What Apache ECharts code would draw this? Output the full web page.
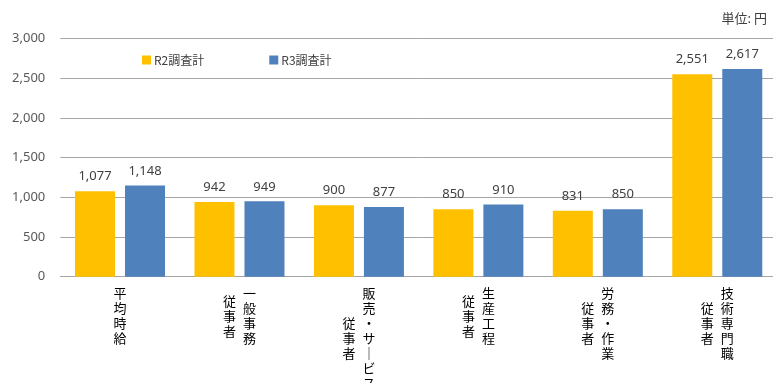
<!DOCTYPE html>
<html>
<head>
<meta charset="utf-8">
<script src="https://cdn.jsdelivr.net/npm/echarts@6/dist/echarts.min.js"></script>
<style>
  html, body { margin: 0; padding: 0; background: #fff; }
  #chart { width: 773px; height: 383px; }
</style>
</head>
<body>
<div id="chart"></div>
<script>
// Occupation groups: main column and the "従事者" column of each vertical label
const labelMain = ['平均時給', '一般事務', '販売・サービス', '生産工程', '労務・作業', '技術専門職'];
const labelSub = ['', '従事者', '従事者', '従事者', '従事者', '従事者'];
const categories = labelMain.map((m, i) => m + labelSub[i]);

// Hourly wage (yen)
const seriesNames = ['R2調査計', 'R3調査計'];
const valuesR2 = [1077, 942, 900, 850, 831, 2551];
const valuesR3 = [1148, 949, 877, 910, 850, 2617];

// Value axis ticks
const yTicks = [0, 500, 1000, 1500, 2000, 2500, 3000];

const unitText = '単位: 円';

const LATIN = '"Noto Sans", "Noto Sans CJK JP", sans-serif';
const CJK = '"Noto Sans CJK JP", "Noto Sans", sans-serif';
const CELL = 15;     // vertical pitch of stacked characters
const COL = 20;      // horizontal distance between the two label columns

// rich styles for the vertically stacked labels
const rich = {
  c: { fontFamily: CJK, fontSize: 13, lineHeight: CELL, height: CELL, width: 16, align: 'center', color: '#000' },
  sp: { fontSize: 1, width: COL, lineHeight: CELL, height: CELL }
};
for (let d = 1; d <= 8; d++) {
  rich['g' + d] = { fontSize: 1, height: d * CELL / 2, lineHeight: d * CELL / 2 };
}

// vertical text: the long vowel mark is drawn upright in vertical writing
const vchar = ch => (ch === 'ー' ? '｜' : ch);

function mainColumn(value) {
  const i = categories.indexOf(value);
  const chars = Array.from(labelMain[i]);
  const twoCols = labelSub[i] !== '';
  return chars.map(ch => twoCols ? '{sp|\u3000}{c|' + vchar(ch) + '}' : '{c|' + vchar(ch) + '}').join('\n');
}

function subColumn(value) {
  const i = categories.indexOf(value);
  if (!labelSub[i]) return '';
  const chars = Array.from(labelSub[i]);
  const d = Array.from(labelMain[i]).length - chars.length;
  const lines = chars.map(ch => '{c|' + vchar(ch) + '}{sp|\u3000}');
  if (d > 0) lines.unshift('{g' + d + '|\u3000}');
  return lines.join('\n');
}

const fmt = v => Number(v).toLocaleString('en-US');

const chart = echarts.init(document.getElementById('chart'), null, { renderer: 'canvas' });

chart.setOption({
  animation: false,
  backgroundColor: '#ffffff',
  title: {
    text: unitText,
    right: 1,
    top: 7,
    textStyle: { fontFamily: CJK, fontSize: 13, fontWeight: 'normal', color: '#404040' }
  },
  legend: {
    left: 137,
    top: 49,
    itemWidth: 9,
    itemHeight: 9,
    itemGap: 65,
    icon: 'rect',
    data: seriesNames,
    textStyle: { fontFamily: CJK, fontSize: 12, color: '#404040', padding: [0, 0, 0, -2] }
  },
  grid: { left: 60.3, right: -4, top: 38.5, bottom: 106.3, containLabel: false, outerBoundsMode: 'none' },
  xAxis: [
    {
      type: 'category',
      data: categories,
      axisLine: { show: true, lineStyle: { color: '#A6A6A6', width: 1 } },
      axisTick: { show: false },
      axisLabel: { interval: 0, margin: 9, verticalAlign: 'top', formatter: mainColumn, rich: rich }
    },
    {
      type: 'category',
      data: categories,
      position: 'bottom',
      axisLine: { show: false },
      axisTick: { show: false },
      splitLine: { show: false },
      axisLabel: { interval: 0, margin: 9, verticalAlign: 'top', formatter: subColumn, rich: rich }
    }
  ],
  yAxis: {
    type: 'value',
    min: yTicks[0],
    max: yTicks[yTicks.length - 1],
    interval: yTicks[1] - yTicks[0],
    axisLine: { show: false },
    axisTick: { show: false },
    splitLine: { lineStyle: { color: '#A6A6A6', width: 1 } },
    axisLabel: { margin: 15, color: '#595959', fontFamily: LATIN, fontSize: 13, formatter: fmt }
  },
  series: [
    {
      name: seriesNames[0],
      type: 'bar',
      xAxisIndex: 0,
      data: valuesR2,
      barWidth: 40,
      barGap: '25%',
      itemStyle: { color: '#FFC000' },
      label: { show: true, position: 'top', distance: 8, color: '#404040', fontFamily: LATIN, fontSize: 13, formatter: p => fmt(p.value) }
    },
    {
      name: seriesNames[1],
      type: 'bar',
      xAxisIndex: 0,
      data: valuesR3,
      barWidth: 40,
      barGap: '25%',
      itemStyle: { color: '#4F81BD' },
      label: { show: true, position: 'top', distance: 8, color: '#404040', fontFamily: LATIN, fontSize: 13, formatter: p => fmt(p.value) }
    }
  ]
});
</script>
</body>
</html>
